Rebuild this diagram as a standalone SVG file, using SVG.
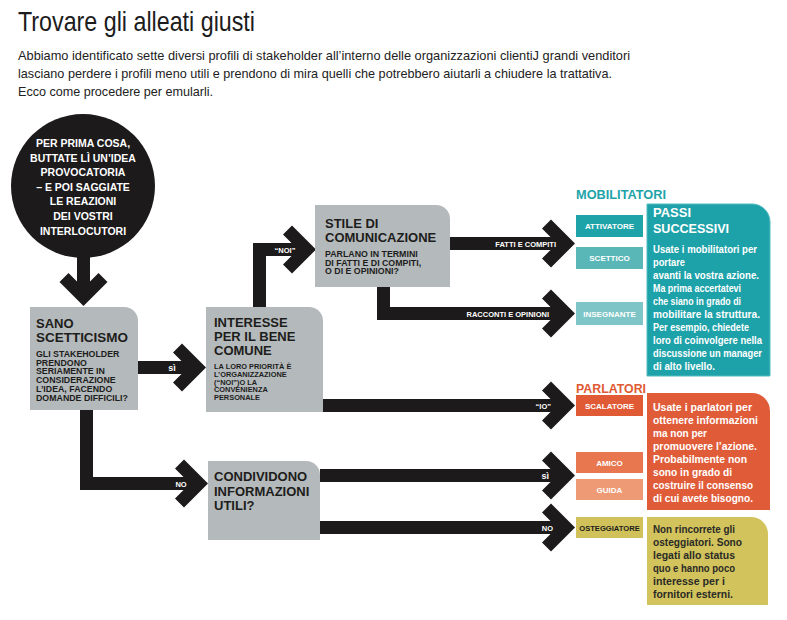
<svg xmlns="http://www.w3.org/2000/svg" width="787" height="620" viewBox="0 0 787 620">
<style>
text{font-family:"Liberation Sans",Arial,sans-serif}
.box{fill:#b4b9bb}
.bar{fill:#1c1a1a}
.hd{font-weight:bold;font-size:13px;fill:#1d1d1b}
.sub{font-weight:bold;font-size:8.8px;fill:#1d1d1b}
.sub2{font-weight:bold;font-size:7.4px;fill:#1d1d1b}
.lbl{font-weight:bold;font-size:7.5px;fill:#fff}
.lbl2{font-weight:bold;font-size:9px;fill:#fff}
.ct{font-weight:bold;font-size:10.5px;fill:#fff;text-anchor:middle}
.tag{font-weight:bold;font-size:8px;fill:#fff;text-anchor:middle}
.body{font-weight:bold;font-size:11.5px;fill:#fff}
.bodyd{font-weight:bold;font-size:11.5px;fill:#2a2a26}
.grp{font-weight:bold;font-size:12.5px}
.ph{font-weight:bold;font-size:13.5px;fill:#fff}
</style>
<defs>
<path id="chev" d="M0,0 L-24,-24 L-33,-15 L-18,0 L-33,15 L-24,24 Z"/>
</defs>
<rect width="787" height="620" fill="#fff"/>

<g id="title">
<text x="18" y="31" font-size="28" fill="#1c1c1c" textLength="237" lengthAdjust="spacingAndGlyphs">Trovare gli alleati giusti</text>
<text x="18" y="60" font-size="13" fill="#222" textLength="612" lengthAdjust="spacingAndGlyphs">Abbiamo identificato sette diversi profili di stakeholder all’interno delle organizzazioni clientiJ grandi venditori</text>
<text x="18" y="78" font-size="13" fill="#222" textLength="594" lengthAdjust="spacingAndGlyphs">lasciano perdere i profili meno utili e prendono di mira quelli che potrebbero aiutarli a chiudere la trattativa.</text>
<text x="18" y="96" font-size="13" fill="#222" textLength="195" lengthAdjust="spacingAndGlyphs">Ecco come procedere per emularli.</text>
</g>

<g id="connectors" class="bar">
<rect x="77" y="250" width="13" height="45"/>
<use href="#chev" transform="translate(83.5,306) rotate(90)"/>
<rect x="138" y="361" width="58" height="13"/>
<use href="#chev" transform="translate(206,367.5)"/>
<path d="M80,410 H93 V477 H200 V490 H80 Z"/>
<use href="#chev" transform="translate(208,483.5)"/>
<path d="M253,307 V243 H306 V256 H266 V307 Z"/>
<use href="#chev" transform="translate(316,249.5)"/>
<rect x="323" y="399" width="243" height="13"/>
<use href="#chev" transform="translate(575,405.5)"/>
<rect x="450" y="237" width="116" height="13"/>
<use href="#chev" transform="translate(575,243.5)"/>
<path d="M377,287 H390 V307 H566 V320 H377 Z"/>
<use href="#chev" transform="translate(575,313.5)"/>
<rect x="320" y="469" width="246" height="13"/>
<use href="#chev" transform="translate(575,475.5)"/>
<rect x="320" y="521" width="246" height="13"/>
<use href="#chev" transform="translate(575,527.5)"/>
<text class="lbl2" x="172" y="371" text-anchor="middle">sì</text>
<text class="lbl" x="181" y="486.5" text-anchor="middle">NO</text>
<text class="lbl" x="285" y="252.5" text-anchor="middle">“NOI”</text>
<text class="lbl" x="551" y="408.5" text-anchor="end">“IO”</text>
<text class="lbl" x="556" y="246.5" text-anchor="end">FATTI E COMPITI</text>
<text class="lbl" x="549" y="316.5" text-anchor="end">RACCONTI E OPINIONI</text>
<text class="lbl2" x="549" y="479" text-anchor="end">sì</text>
<text class="lbl" x="553" y="530.5" text-anchor="end">NO</text>
</g>

<g id="start">
<circle cx="83" cy="186" r="72" fill="#1c1a1a"/>
<text class="ct" x="83" y="147">PER PRIMA COSA,</text>
<text class="ct" x="83" y="162">BUTTATE LÌ UN’IDEA</text>
<text class="ct" x="83" y="176">PROVOCATORIA</text>
<text class="ct" x="83" y="191">– E POI SAGGIATE</text>
<text class="ct" x="83" y="205">LE REAZIONI</text>
<text class="ct" x="83" y="220">DEI VOSTRI</text>
<text class="ct" x="83" y="235">INTERLOCUTORI</text>
</g>

<g id="sano">
<path class="box" d="M30,307 H124 A14,14 0 0 1 138,321 V410 H30 Z"/>
<text class="hd" x="36" y="328">SANO</text>
<text class="hd" x="36" y="342" textLength="92" lengthAdjust="spacingAndGlyphs">SCETTICISMO</text>
<text class="sub" x="36" y="357">GLI STAKEHOLDER</text>
<text class="sub" x="36" y="365.5">PRENDONO</text>
<text class="sub" x="36" y="374">SERIAMENTE IN</text>
<text class="sub" x="36" y="382.5">CONSIDERAZIONE</text>
<text class="sub" x="36" y="391.5">L’IDEA, FACENDO</text>
<text class="sub" x="36" y="400.5">DOMANDE DIFFICILI?</text>
</g>

<g id="interesse">
<path class="box" d="M206,307 H309 A14,14 0 0 1 323,321 V412 H206 Z"/>
<text class="hd" x="214" y="327">INTERESSE</text>
<text class="hd" x="214" y="341">PER IL BENE</text>
<text class="hd" x="214" y="355">COMUNE</text>
<text class="sub2" x="214" y="369">LA LORO PRIORITÀ È</text>
<text class="sub2" x="214" y="377">L’ORGANIZZAZIONE</text>
<text class="sub2" x="214" y="384.5">(“NOI”)O LA</text>
<text class="sub2" x="214" y="392">CONVENIENZA</text>
<text class="sub2" x="214" y="400">PERSONALE</text>
</g>

<g id="stile">
<path class="box" d="M315,205 H436 A14,14 0 0 1 450,219 V287 H315 Z"/>
<text class="hd" x="325" y="228">STILE DI</text>
<text class="hd" x="325" y="242">COMUNICAZIONE</text>
<text class="sub" x="325" y="257">PARLANO IN TERMINI</text>
<text class="sub" x="325" y="265.5">DI FATTI E DI COMPITI,</text>
<text class="sub" x="325" y="274">O DI E OPINIONI?</text>
</g>

<g id="condividono">
<path class="box" d="M208,461 H306 A14,14 0 0 1 320,475 V540 H208 Z"/>
<text class="hd" x="214" y="481">CONDIVIDONO</text>
<text class="hd" x="214" y="495.5">INFORMAZIONI</text>
<text class="hd" x="214" y="510">UTILI?</text>
</g>

<g id="mobilitatori">
<text class="grp" x="576" y="199" fill="#1ea3aa" textLength="90" lengthAdjust="spacingAndGlyphs">MOBILITATORI</text>
<rect x="576" y="215" width="67" height="22" fill="#1ea3a9"/>
<text class="tag" x="609.5" y="229">ATTIVATORE</text>
<rect x="576" y="247" width="67" height="22" fill="#5ab7b8"/>
<text class="tag" x="609.5" y="261">SCETTICO</text>
<rect x="576" y="302" width="67" height="23" fill="#7dc5c6"/>
<text class="tag" x="609.5" y="316.5">INSEGNANTE</text>
</g>

<g id="passi">
<path d="M647,204 H752 A18,18 0 0 1 770,222 V376 H647 Z" fill="#1ea2a9" stroke="#52bcc0" stroke-width="1"/>
<text class="ph" x="653" y="217" textLength="38" lengthAdjust="spacingAndGlyphs">PASSI</text>
<text class="ph" x="653" y="232.5" textLength="76" lengthAdjust="spacingAndGlyphs">SUCCESSIVI</text>
<text class="body" x="653" y="253" textLength="104" lengthAdjust="spacingAndGlyphs">Usate i mobilitatori per</text>
<text class="body" x="653" y="266" textLength="32" lengthAdjust="spacingAndGlyphs">portare</text>
<text class="body" x="653" y="279" textLength="106" lengthAdjust="spacingAndGlyphs">avanti la vostra azione.</text>
<text class="body" x="653" y="292" textLength="88" lengthAdjust="spacingAndGlyphs">Ma prima accertatevi</text>
<text class="body" x="653" y="305" textLength="88" lengthAdjust="spacingAndGlyphs">che siano in grado di</text>
<text class="body" x="653" y="318" textLength="107" lengthAdjust="spacingAndGlyphs">mobilitare la struttura.</text>
<text class="body" x="653" y="331" textLength="96" lengthAdjust="spacingAndGlyphs">Per esempio, chiedete</text>
<text class="body" x="653" y="344" textLength="109" lengthAdjust="spacingAndGlyphs">loro di coinvolgere nella</text>
<text class="body" x="653" y="357" textLength="109" lengthAdjust="spacingAndGlyphs">discussione un manager</text>
<text class="body" x="653" y="370" textLength="62" lengthAdjust="spacingAndGlyphs">di alto livello.</text>
</g>

<g id="parlatori">
<text class="grp" x="576" y="393" fill="#e05a33" textLength="70" lengthAdjust="spacingAndGlyphs">PARLATORI</text>
<rect x="576" y="395" width="67" height="21" fill="#e05a35"/>
<text class="tag" x="609.5" y="408.5">SCALATORE</text>
<rect x="576" y="452" width="67" height="21" fill="#e8774f"/>
<text class="tag" x="609.5" y="465.5">AMICO</text>
<rect x="576" y="479" width="67" height="21" fill="#ee9a74"/>
<text class="tag" x="609.5" y="492.5">GUIDA</text>
<path d="M647,393 H752 A18,18 0 0 1 770,411 V510 H647 Z" fill="#e05c39"/>
<text class="body" x="653" y="411" textLength="99" lengthAdjust="spacingAndGlyphs">Usate i parlatori per</text>
<text class="body" x="653" y="424" textLength="105" lengthAdjust="spacingAndGlyphs">ottenere informazioni</text>
<text class="body" x="653" y="437" textLength="54" lengthAdjust="spacingAndGlyphs">ma non per</text>
<text class="body" x="653" y="450" textLength="104" lengthAdjust="spacingAndGlyphs">promuovere l’azione.</text>
<text class="body" x="653" y="463" textLength="94" lengthAdjust="spacingAndGlyphs">Probabilmente non</text>
<text class="body" x="653" y="476" textLength="79" lengthAdjust="spacingAndGlyphs">sono in grado di</text>
<text class="body" x="653" y="489" textLength="100" lengthAdjust="spacingAndGlyphs">costruire il consenso</text>
<text class="body" x="653" y="502" textLength="100" lengthAdjust="spacingAndGlyphs">di cui avete bisogno.</text>
</g>

<g id="osteggiatori">
<rect x="576" y="517" width="67" height="21" fill="#d0c15a"/>
<text class="tag" x="609.5" y="530.5" style="fill:#1d1d1b;font-size:7.6px">OSTEGGIATORE</text>
<path d="M647,517 H751 A17,17 0 0 1 768,534 V605 H647 Z" fill="#d2c35c"/>
<text class="bodyd" x="653" y="533" textLength="82" lengthAdjust="spacingAndGlyphs">Non rincorrete gli</text>
<text class="bodyd" x="653" y="546" textLength="89" lengthAdjust="spacingAndGlyphs">osteggiatori. Sono</text>
<text class="bodyd" x="653" y="559" textLength="82" lengthAdjust="spacingAndGlyphs">legati allo status</text>
<text class="bodyd" x="653" y="572" textLength="82" lengthAdjust="spacingAndGlyphs">quo e hanno poco</text>
<text class="bodyd" x="653" y="585" textLength="72" lengthAdjust="spacingAndGlyphs">interesse per i</text>
<text class="bodyd" x="653" y="598" textLength="80" lengthAdjust="spacingAndGlyphs">fornitori esterni.</text>
</g>
</svg>
